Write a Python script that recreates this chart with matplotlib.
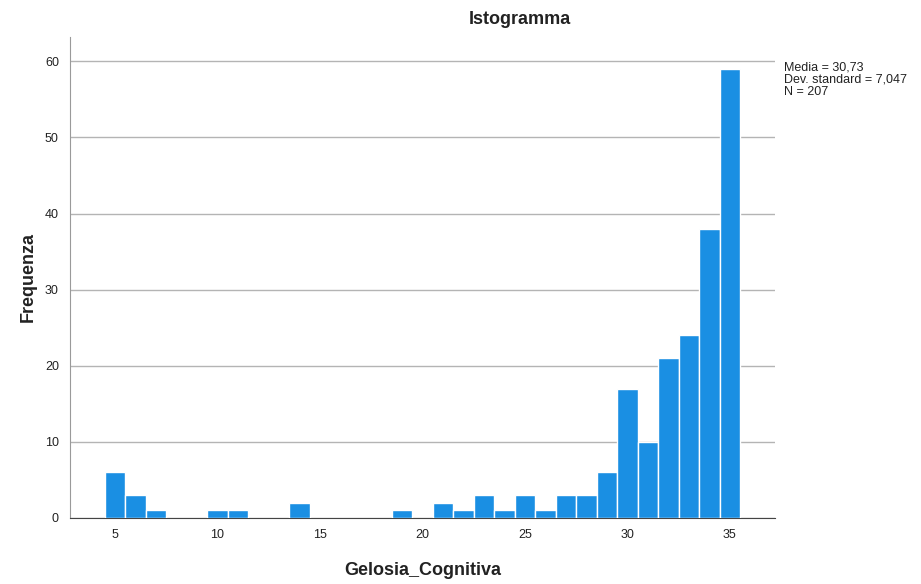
import matplotlib.pyplot as plt
import numpy as np

values = list(range(5, 36))
counts = [6, 3, 1, 0, 0, 1, 1, 0, 0, 2, 0, 0, 0, 0, 1, 0, 2, 1, 3, 1, 3, 1, 3, 3, 6, 17, 10, 21, 24, 38, 59]
xticks = [5, 10, 15, 20, 25, 30, 35]
yticks = [0, 10, 20, 30, 40, 50, 60]
stats_text = "Media = 30,73\nDev. standard = 7,047\nN = 207"

plt.rcParams['font.family'] = ['Liberation Sans', 'DejaVu Sans']
fig = plt.figure(figsize=(9.21, 5.84), dpi=100)
ax = fig.add_axes([70/921, 66/584, 705/921, 481/584])

ax.bar(values, counts, width=1.0, color='#1a8fe3', edgecolor='white', linewidth=1.0, zorder=3)
ax.set_xlim(2.8, 37.2)
ax.set_ylim(0, 63.2)
ax.set_xticks(xticks)
ax.set_yticks(yticks)
ax.yaxis.grid(True, color='#b4b4b4', linewidth=1.0, zorder=0)
ax.tick_params(axis='both', length=0, labelsize=9, colors='#222222', pad=8)
for s in ['top', 'right']:
    ax.spines[s].set_visible(False)
ax.spines['left'].set_color('#9a9a9a')
ax.spines['bottom'].set_color('#444444')
ax.set_xlabel('Gelosia_Cognitiva', fontsize=13, fontweight='bold', labelpad=15, color='#222222')
ax.set_ylabel('Frequenza', fontsize=13, fontweight='bold', labelpad=6, color='#222222')
fig.text(520/921, 1 - 20/584, 'Istogramma', ha='center', va='center', fontsize=13, fontweight='bold', color='#222222')
fig.text(784/921, 1 - 61/584, stats_text, ha='left', va='top', fontsize=9, color='#222222', linespacing=1.05)

fig.savefig('out.png', dpi=100)
